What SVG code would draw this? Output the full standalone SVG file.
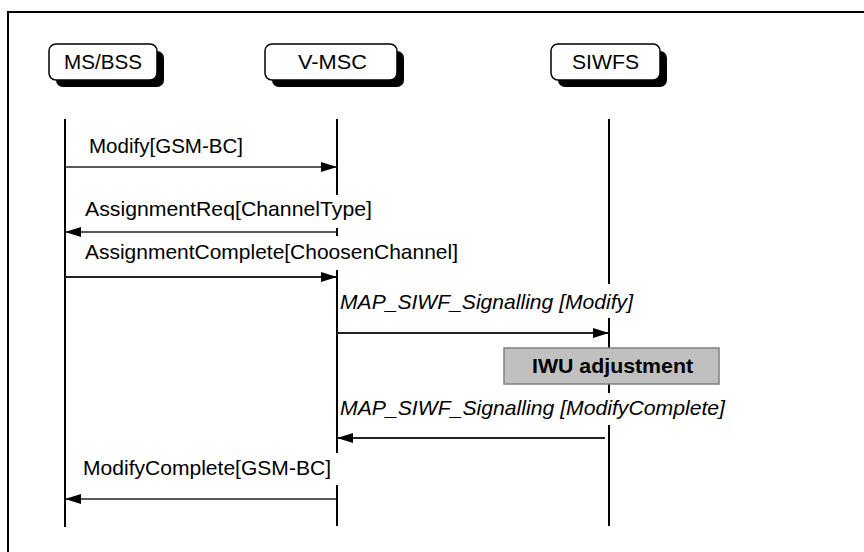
<svg xmlns="http://www.w3.org/2000/svg" width="864" height="552" viewBox="0 0 864 552">
<style>
.t{font-family:"Liberation Sans",Arial,sans-serif;font-size:21px;fill:#000}
.i{font-style:italic}
.b{font-weight:bold}
.box{fill:#fff;stroke:#000;stroke-width:1.5}
.sh{fill:#000}
.life{stroke:#000;stroke-width:2;fill:none}
.bg{fill:#fff}
.msg{stroke:#222;fill:none}
.thin{stroke-width:1.3}
.thick{stroke-width:2}
</style>
<defs>
<marker id="ah" markerUnits="userSpaceOnUse" markerWidth="16" markerHeight="10" refX="16" refY="5" orient="auto">
<path d="M0,0 L16,5 L0,10 Z" fill="#000"/>
</marker>
</defs>
<rect x="0" y="0" width="864" height="552" fill="#fff"/>
<path d="M8,560 V12 H870" fill="none" stroke="#000" stroke-width="2"/>

<g id="ms-bss">
<rect class="sh" x="56" y="51" width="108" height="36" rx="7"/>
<rect class="box" x="49" y="44" width="108" height="36" rx="7"/>
<text class="t" x="64" y="69" textLength="78" lengthAdjust="spacingAndGlyphs">MS/BSS</text>
</g>
<g id="v-msc">
<rect class="sh" x="272" y="51" width="132" height="36" rx="7"/>
<rect class="box" x="265" y="44" width="132" height="36" rx="7"/>
<text class="t" x="298" y="69" textLength="69" lengthAdjust="spacingAndGlyphs">V-MSC</text>
</g>
<g id="siwfs">
<rect class="sh" x="558" y="51" width="109" height="36" rx="7"/>
<rect class="box" x="551" y="44" width="109" height="36" rx="7"/>
<text class="t" x="572" y="69" textLength="67" lengthAdjust="spacingAndGlyphs">SIWFS</text>
</g>

<g id="lifelines">
<line class="life" x1="65" y1="119" x2="65" y2="527"/>
<line class="life" x1="337" y1="119" x2="337" y2="526"/>
<line class="life" x1="609" y1="119" x2="609" y2="526"/>
</g>

<g id="label-bg">
<rect class="bg" x="83" y="195" width="292" height="33"/>
<rect class="bg" x="83" y="236" width="378" height="34"/>
<rect class="bg" x="340" y="284" width="296" height="34"/>
<rect class="bg" x="340" y="393" width="388" height="32"/>
<rect class="bg" x="81" y="453" width="259" height="32"/>
</g>

<g id="connectors">
<path class="msg thin" d="M65,167 H337" marker-end="url(#ah)"/>
<path class="msg thin" d="M337,232 H65" marker-end="url(#ah)"/>
<path class="msg thick" d="M65,277 H337" marker-end="url(#ah)"/>
<path class="msg thick" d="M337,333 H609" marker-end="url(#ah)"/>
<path class="msg thick" d="M605,438 H337" marker-end="url(#ah)"/>
<path class="msg thin" d="M337,499 H65" marker-end="url(#ah)"/>
</g>

<g id="labels">
<text class="t" x="89" y="153" textLength="154" lengthAdjust="spacingAndGlyphs">Modify[GSM-BC]</text>
<text class="t" x="85" y="216" textLength="287" lengthAdjust="spacingAndGlyphs">AssignmentReq[ChannelType]</text>
<text class="t" x="85" y="259" textLength="373" lengthAdjust="spacingAndGlyphs">AssignmentComplete[ChoosenChannel]</text>
<text class="t i" x="340" y="309" textLength="293" lengthAdjust="spacingAndGlyphs">MAP_SIWF_Signalling [Modify]</text>
<text class="t i" x="340" y="415" textLength="385" lengthAdjust="spacingAndGlyphs">MAP_SIWF_Signalling [ModifyComplete]</text>
<text class="t" x="83" y="475" textLength="248" lengthAdjust="spacingAndGlyphs">ModifyComplete[GSM-BC]</text>
</g>

<g id="iwu-adjustment">
<rect x="504" y="348" width="215" height="36" fill="#c0c0c0" stroke="#808080" stroke-width="1.5"/>
<text class="t b" x="532" y="373" textLength="161" lengthAdjust="spacingAndGlyphs">IWU adjustment</text>
</g>
</svg>
